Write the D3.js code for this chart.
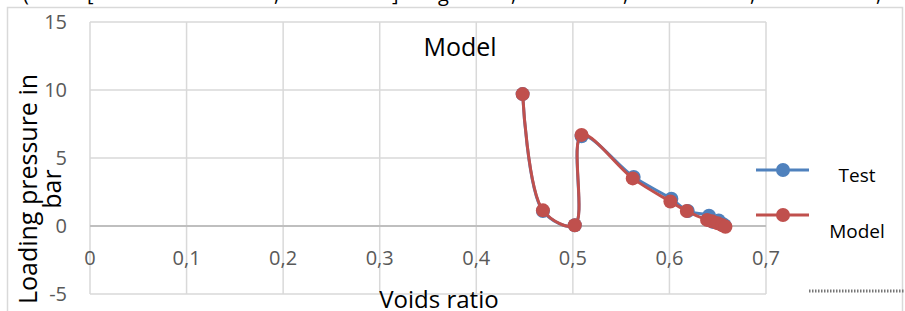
<!DOCTYPE html>
<html>
<head>
    <meta charset="utf-8">
    <script src="https://cdn.jsdelivr.net/npm/d3@7"></script>
    <style>
        body {
            margin: 0;
            background: #fff;
        }
        svg {
            display: block;
            font-family: "Open Sans", "Liberation Sans", sans-serif;
        }
        .grid line {
            stroke: #d9d9d9;
            stroke-width: 1.5px;
        }
        .tick-label {
            fill: #595959;
            font-size: 20px;
        }
        .series-line {
            fill: none;
            stroke-width: 3px;
        }
    </style>
</head>
<body>
<div id="chart"></div>

<script>
    // tick values on both axes
    var xTicks = [0, 0.1, 0.2, 0.3, 0.4, 0.5, 0.6, 0.7];
    var xTickLabels = ["0", "0,1", "0,2", "0,3", "0,4", "0,5", "0,6", "0,7"];
    var yTicks = [-5, 0, 5, 10, 15];
    var yTickLabels = ["-5", "0", "5", "10", "15"];

    // Test series (voids ratio, loading pressure in bar)
    var testVoids = [0.448, 0.469, 0.502, 0.509, 0.563, 0.602, 0.619, 0.641, 0.645, 0.651, 0.655, 0.657];
    var testLoad  = [9.7, 1.1, 0.05, 6.6, 3.6, 2.0, 1.1, 0.75, 0.3, 0.4, 0.15, 0.05];

    // Model series
    var modelVoids = [0.448, 0.469, 0.502, 0.509, 0.562, 0.601, 0.618, 0.639, 0.644, 0.650, 0.655, 0.658];
    var modelLoad  = [9.7, 1.15, 0.05, 6.7, 3.5, 1.8, 1.1, 0.45, 0.35, 0.2, 0.05, -0.05];

    var seriesNames = ["Test", "Model"];
    var seriesColors = ["#4f81bd", "#c0504d"];

    var width = 905, height = 311;
    var plot = {left: 90, right: 766, top: 22, bottom: 294};

    var x = d3.scaleLinear().domain([0, 0.7]).range([plot.left, plot.right]);
    var y = d3.scaleLinear().domain([-5, 15]).range([plot.bottom, plot.top]);

    var svg = d3.select("#chart").append("svg")
        .attr("width", width)
        .attr("height", height);

    // cut-off text line from the page above the chart
    var topGlyphs = [["(", 23], ["[", 87], [",", 274], ["]", 392], ["g", 438], [",", 511], [",", 623], [",", 750], [",", 876]];
    svg.selectAll(".top-glyph")
        .data(topGlyphs)
        .enter().append("text")
        .attr("x", function (d) { return d[1]; })
        .attr("y", 1)
        .style("font-size", "20px")
        .attr("fill", "#000")
        .text(function (d) { return d[0]; });

    // chart border
    svg.append("rect")
        .attr("x", 7.5).attr("y", 7.5)
        .attr("width", 895).attr("height", 320)
        .attr("fill", "none")
        .attr("stroke", "#d9d9d9")
        .attr("stroke-width", 1.5);

    // vertical gridlines
    svg.append("g").attr("class", "grid")
        .selectAll("line").data(xTicks).enter().append("line")
        .attr("x1", function (d) { return x(d); })
        .attr("x2", function (d) { return x(d); })
        .attr("y1", y(15)).attr("y2", y(-5));

    // horizontal gridlines
    svg.append("g").attr("class", "grid")
        .selectAll("line").data(yTicks).enter().append("line")
        .attr("x1", x(0)).attr("x2", x(0.7))
        .attr("y1", function (d) { return y(d); })
        .attr("y2", function (d) { return y(d); });

    // the x axis crosses at zero
    svg.append("line")
        .attr("x1", x(0)).attr("x2", x(0.7))
        .attr("y1", y(0)).attr("y2", y(0))
        .attr("stroke", "#bfbfbf")
        .attr("stroke-width", 2);

    // y tick labels
    svg.selectAll(".ytl").data(yTicks).enter().append("text")
        .attr("class", "tick-label")
        .attr("x", 67)
        .attr("y", function (d) { return y(d) + 7; })
        .attr("text-anchor", "end")
        .text(function (d, i) { return yTickLabels[i]; });

    // x tick labels, drawn under the zero line
    svg.selectAll(".xtl").data(xTicks).enter().append("text")
        .attr("class", "tick-label")
        .attr("x", function (d) { return x(d); })
        .attr("y", y(0) + 39)
        .attr("text-anchor", "middle")
        .text(function (d, i) { return xTickLabels[i]; });

    // series
    var series = [
        {name: seriesNames[0], color: seriesColors[0], pts: d3.zip(testVoids, testLoad)},
        {name: seriesNames[1], color: seriesColors[1], pts: d3.zip(modelVoids, modelLoad)}
    ];

    var line = d3.line()
        .x(function (d) { return x(d[0]); })
        .y(function (d) { return y(d[1]); })
        .curve(d3.curveCatmullRom.alpha(0.5));

    series.forEach(function (s) {
        var g = svg.append("g");
        g.append("path")
            .datum(s.pts)
            .attr("class", "series-line")
            .attr("stroke", s.color)
            .attr("d", line);
        g.selectAll("circle").data(s.pts).enter().append("circle")
            .attr("cx", function (d) { return x(d[0]); })
            .attr("cy", function (d) { return y(d[1]); })
            .attr("r", 7)
            .attr("fill", s.color);
    });

    // chart title
    svg.append("text")
        .attr("x", 460).attr("y", 56)
        .attr("text-anchor", "middle")
        .style("font-size", "25px")
        .attr("fill", "#000")
        .text("Model");

    // axis titles
    svg.append("text")
        .attr("x", 439).attr("y", 308)
        .attr("text-anchor", "middle")
        .style("font-size", "24px")
        .attr("fill", "#000")
        .text("Voids ratio");

    var yTitle = svg.append("text")
        .attr("transform", "translate(37,189) rotate(-90)")
        .attr("text-anchor", "middle")
        .style("font-size", "25px")
        .attr("fill", "#000");
    yTitle.append("tspan").attr("x", 0).attr("y", 0).text("Loading pressure in");
    yTitle.append("tspan").attr("x", 0).attr("y", 24).text("bar");

    // legend
    var legendY = [170, 215];
    var legendTextY = [182, 238];
    series.forEach(function (s, i) {
        svg.append("line")
            .attr("x1", 756).attr("x2", 809)
            .attr("y1", legendY[i]).attr("y2", legendY[i])
            .attr("stroke", s.color)
            .attr("stroke-width", 3);
        svg.append("circle")
            .attr("cx", 783).attr("cy", legendY[i])
            .attr("r", 7)
            .attr("fill", s.color);
        svg.append("text")
            .attr("x", 857).attr("y", legendTextY[i])
            .attr("text-anchor", "middle")
            .style("font-size", "19px")
            .attr("fill", "#000")
            .text(s.name);
    });

    // broken dotted mark at the lower right
    svg.append("line")
        .attr("x1", 809).attr("x2", 905)
        .attr("y1", 291).attr("y2", 291)
        .attr("stroke", "#777")
        .attr("stroke-width", 3)
        .attr("stroke-dasharray", "1.5,1.5");
</script>
</body>
</html>
